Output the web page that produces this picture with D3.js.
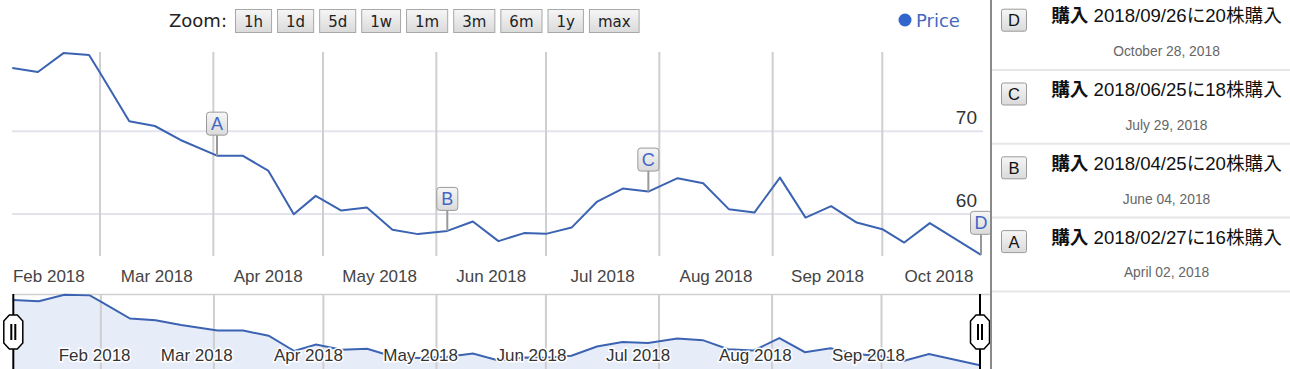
<!DOCTYPE html>
<html>
<head>
<meta charset="utf-8">
<script src="https://cdn.jsdelivr.net/npm/d3@7"></script>
<style>
  body { margin: 0; background: #fff; }
  svg { display: block; }
</style>
</head>
<body>
<svg width="1290" height="369"></svg>
<script>
"use strict";

// price series
const dates = ["2018-02-05","2018-02-12","2018-02-19","2018-02-26","2018-03-01","2018-03-09","2018-03-16","2018-03-23",
  "2018-04-02","2018-04-09","2018-04-16","2018-04-23","2018-04-29","2018-05-06","2018-05-13","2018-05-20","2018-05-27",
  "2018-06-04","2018-06-11","2018-06-18","2018-06-25","2018-07-01","2018-07-08","2018-07-15","2018-07-22","2018-07-29",
  "2018-08-06","2018-08-13","2018-08-20","2018-08-27","2018-09-03","2018-09-10","2018-09-17","2018-09-24","2018-10-01",
  "2018-10-07","2018-10-14","2018-10-28"];
const prices = [77.65, 77.17, 79.47, 79.23, 77.09, 71.21, 70.64, 68.95, 67.05, 67.05, 65.24, 59.96, 62.18, 60.40, 60.76,
  58.07, 57.55, 57.94, 59.07, 56.70, 57.67, 57.58, 58.34, 61.49, 63.06, 62.70, 64.32, 63.71, 60.57, 60.16, 64.39, 59.55,
  60.93, 58.95, 58.15, 56.53, 58.88, 55.04];

// annotations
const markLetters = ["A", "B", "C", "D"];
const markDates = ["2018-04-02", "2018-06-04", "2018-07-29", "2018-10-28"];
const markTitles = ["2018/02/27に16株購入", "2018/04/25に20株購入", "2018/06/25に18株購入", "2018/09/26に20株購入"];
const markDateText = ["April 02, 2018", "June 04, 2018", "July 29, 2018", "October 28, 2018"];

const zoomLabels = ["1h", "1d", "5d", "1w", "1m", "3m", "6m", "1y", "max"];
const yTicks = [60, 70];
const seriesName = "Price";

const svg = d3.select("svg");
const parse = d3.timeParse("%Y-%m-%d");
const data = dates.map((d, i) => ({ date: parse(d), value: prices[i] }));

const sans = "'Liberation Sans', Arial, sans-serif";
const ui = "'DejaVu Sans', Verdana, sans-serif";
const lineColor = "#3b63b2";

const defs = svg.append("defs");
const btnGrad = defs.append("linearGradient").attr("id", "btn").attr("x1", 0).attr("x2", 0).attr("y1", 0).attr("y2", 1);
btnGrad.append("stop").attr("offset", "0%").attr("stop-color", "#f6f6f6");
btnGrad.append("stop").attr("offset", "100%").attr("stop-color", "#dadada");

// ---------- main chart ----------
const x = d3.scaleTime().domain(d3.extent(data, d => d.date)).range([12.3, 981]);
const y = d3.scaleLinear().domain([54.9, 79.6]).range([256, 52]);

const months = d3.timeMonth.range(new Date(2018, 1, 1), new Date(2018, 10, 1));

svg.append("g")
  .selectAll("line")
  .data(yTicks)
  .enter()
  .append("line")
  .attr("x1", 12).attr("x2", 983)
  .attr("y1", d => y(d)).attr("y2", d => y(d))
  .attr("stroke", "#e3e3ee").attr("stroke-width", 2);

svg.append("g")
  .selectAll("line")
  .data(months.filter(m => m > x.domain()[0]))
  .enter()
  .append("line")
  .attr("x1", d => x(d)).attr("x2", d => x(d))
  .attr("y1", 52).attr("y2", 256)
  .attr("stroke", "#cfcfcf").attr("stroke-width", 2);

svg.append("g")
  .selectAll("text")
  .data(months)
  .enter()
  .append("text")
  .attr("x", d => (x(d) + x(d3.timeMonth.offset(d, 1))) / 2)
  .attr("y", 282)
  .attr("text-anchor", "middle")
  .attr("font-family", sans).attr("font-size", 17).attr("fill", "#444")
  .text(d3.timeFormat("%b %Y"));

svg.append("g")
  .selectAll("text")
  .data(yTicks)
  .enter()
  .append("text")
  .attr("x", 977)
  .attr("y", d => y(d) - 7)
  .attr("text-anchor", "end")
  .attr("font-family", sans).attr("font-size", 19).attr("fill", "#333")
  .text(d => d);

const line = d3.line().x(d => x(d.date)).y(d => y(d.value));
svg.append("path")
  .datum(data)
  .attr("d", line)
  .attr("fill", "none")
  .attr("stroke", lineColor)
  .attr("stroke-width", 2)
  .attr("stroke-linejoin", "round");

// annotation flags
const valueAt = ds => data.find(d => +d.date === +parse(ds)).value;
const flags = svg.append("g")
  .selectAll("g")
  .data(markLetters)
  .enter()
  .append("g")
  .attr("transform", (d, i) => `translate(${x(parse(markDates[i]))},${y(valueAt(markDates[i]))})`);

flags.append("line")
  .attr("x1", 0).attr("x2", 0).attr("y1", 0).attr("y2", -21)
  .attr("stroke", "#999").attr("stroke-width", 2);
flags.append("rect")
  .attr("x", -10.5).attr("y", -43.5).attr("width", 21).attr("height", 23).attr("rx", 3)
  .attr("fill", "url(#btn)").attr("stroke", "#9a9a9a");
flags.append("text")
  .attr("y", -25.5)
  .attr("text-anchor", "middle")
  .attr("font-family", sans).attr("font-size", 18).attr("fill", "#4466c4")
  .text(d => d);

// ---------- toolbar ----------
svg.append("text")
  .attr("x", 169).attr("y", 27)
  .attr("font-family", ui).attr("font-size", 18).attr("fill", "#222")
  .text("Zoom:");

let bx = 235;
zoomLabels.forEach(label => {
  const g = svg.append("g");
  const t = g.append("text")
    .attr("y", 27)
    .attr("font-family", ui).attr("font-size", 15).attr("fill", "#222")
    .text(label);
  const w = t.node().getComputedTextLength() + 17;
  g.insert("rect", "text")
    .attr("x", bx + 0.5).attr("y", 9.5).attr("width", w).attr("height", 23)
    .attr("fill", "url(#btn)").attr("stroke", "#a8a8a8");
  t.attr("x", bx + 0.5 + w / 2).attr("text-anchor", "middle");
  bx += w + 6;
});

svg.append("circle").attr("cx", 905).attr("cy", 20).attr("r", 6.5).attr("fill", "#3366cc");
svg.append("text")
  .attr("x", 916).attr("y", 27)
  .attr("font-family", ui).attr("font-size", 18).attr("fill", "#4468c0")
  .text(seriesName);

// ---------- navigator ----------
const nx = d3.scaleTime().domain(x.domain()).range([13.3, 980]);
const ny = d3.scaleLinear().domain(y.domain()).range([365.6, 294.3]);

svg.append("line")
  .attr("x1", 13).attr("x2", 990).attr("y1", 294.5).attr("y2", 294.5)
  .attr("stroke", "#d0d0d0").attr("stroke-width", 1.5);

svg.append("path")
  .datum(data)
  .attr("d", d3.area().x(d => nx(d.date)).y0(380).y1(d => ny(d.value)))
  .attr("fill", "#e6ecf8");

svg.append("g")
  .selectAll("line")
  .data(months.filter(m => m > x.domain()[0]))
  .enter()
  .append("line")
  .attr("x1", d => nx(d)).attr("x2", d => nx(d))
  .attr("y1", 295).attr("y2", 369)
  .attr("stroke", "#cfcfcf").attr("stroke-width", 2);

svg.append("path")
  .datum(data)
  .attr("d", d3.line().x(d => nx(d.date)).y(d => ny(d.value)))
  .attr("fill", "none")
  .attr("stroke", lineColor)
  .attr("stroke-width", 2);

svg.append("g")
  .selectAll("text")
  .data(months.slice(0, 8))
  .enter()
  .append("text")
  .attr("x", d => nx(d) + 60)
  .attr("y", 361)
  .attr("font-family", sans).attr("font-size", 17).attr("fill", "#333")
  .attr("stroke", "#fff").attr("stroke-width", 3).attr("paint-order", "stroke")
  .text(d3.timeFormat("%b %Y"));

// handles
[nx.range()[0], nx.range()[1]].forEach(hx => {
  svg.append("line")
    .attr("x1", hx).attr("x2", hx).attr("y1", 294).attr("y2", 369)
    .attr("stroke", "#000").attr("stroke-width", 2);
  const h = svg.append("g").attr("transform", `translate(${hx},332)`);
  h.append("path")
    .attr("d", "M-4,-17 L4,-17 L9.5,-11 L9.5,11 L4,17 L-4,17 L-9.5,11 L-9.5,-11 Z")
    .attr("fill", "#fff").attr("stroke", "#000").attr("stroke-width", 1.5);
  h.append("rect").attr("x", -3).attr("y", -8).attr("width", 2).attr("height", 16).attr("fill", "#000");
  h.append("rect").attr("x", 1).attr("y", -8).attr("width", 2).attr("height", 16).attr("fill", "#000");
});

// ---------- annotation panel ----------
svg.append("line")
  .attr("x1", 991).attr("x2", 991).attr("y1", 0).attr("y2", 369)
  .attr("stroke", "#8a8a8a").attr("stroke-width", 2);

const rowH = 73.8;
const rows = svg.append("g")
  .selectAll("g")
  .data(d3.range(markLetters.length).reverse())
  .enter()
  .append("g")
  .attr("transform", (d, i) => `translate(0,${-3.8 + i * rowH})`);

rows.append("line")
  .attr("x1", 992).attr("x2", 1290).attr("y1", rowH).attr("y2", rowH)
  .attr("stroke", "#e6e6e6").attr("stroke-width", 2);
rows.append("rect")
  .attr("x", 1001.5).attr("y", 13).attr("width", 25).attr("height", 22).attr("rx", 2)
  .attr("fill", "url(#btn)").attr("stroke", "#9a9a9a");
rows.append("text")
  .attr("x", 1014).attr("y", 30)
  .attr("text-anchor", "middle")
  .attr("font-family", sans).attr("font-size", 16.5).attr("fill", "#111")
  .text(i => markLetters[i]);

const title = rows.append("text")
  .attr("x", 1166.5).attr("y", 26)
  .attr("text-anchor", "middle")
  .attr("font-family", "'Liberation Sans', 'Noto Sans CJK JP', sans-serif")
  .attr("font-size", 18.6).attr("fill", "#111");
title.append("tspan").attr("font-weight", "bold").text("購入");
title.append("tspan").text(i => " " + markTitles[i]);

rows.append("text")
  .attr("x", 1166.5).attr("y", rowH - 14)
  .attr("text-anchor", "middle")
  .attr("font-family", sans).attr("font-size", 13.8).attr("fill", "#666")
  .text(i => markDateText[i]);
</script>
</body>
</html>
